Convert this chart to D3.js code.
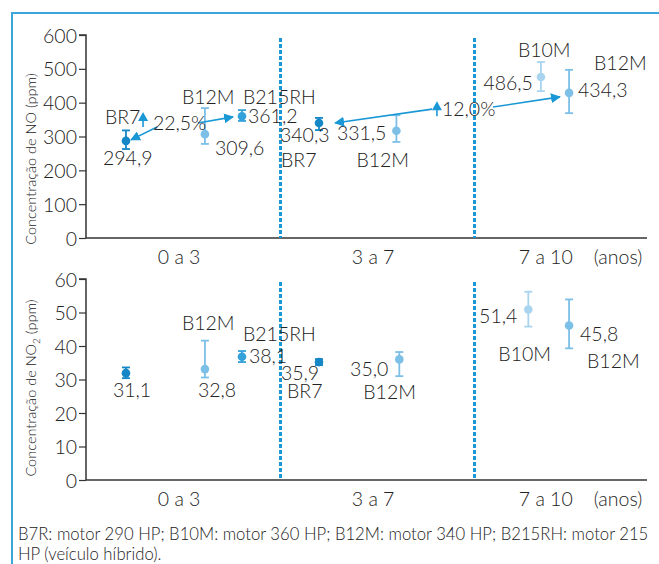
<!DOCTYPE html>
<html>
<head>
<meta charset="utf-8">
<script src="https://cdnjs.cloudflare.com/ajax/libs/d3/7.8.5/d3.min.js"></script>
<style>
 body { margin: 0; background: #fff; }
 svg text { font-family: Lato, "Open Sans", sans-serif; font-weight: 300; fill: #222; }
</style>
</head>
<body>
<div id="chart"></div>
<script>
// dados
var groups = ["0 a 3", "3 a 7", "7 a 10"];
var models = ["BR7", "B12M", "B215RH", "BR7", "B12M", "B10M", "B12M"];
var noValue  = [287, 307, 360, 340, 317, 476, 429];
var noLow    = [263, 278, 346, 319, 284, 434, 369];
var noHigh   = [318, 384, 378, 355, 363, 520, 497];
var noLabels = ["294,9", "309,6", "361,2", "340,3", "331,5", "486,5", "434,3"];
var no2Value  = [31.9, 33.1, 36.8, 35.2, 36.0, 50.9, 46.1];
var no2Low    = [30.4, 30.6, 35.2, 34.3, 31.0, 45.8, 39.3];
var no2High   = [33.6, 41.6, 38.5, 36.1, 38.2, 56.2, 53.9];
var no2Labels = ["31,1", "32,8", "38,1", "35,9", "35,0", "51,4", "45,8"];
var noTicks  = [0, 100, 200, 300, 400, 500, 600];
var no2Ticks = [0, 10, 20, 30, 40, 50, 60];
var pctLabels = ["22,5%", "12,0%"];
var footnote = ["B7R: motor 290 HP; B10M: motor 360 HP; B12M: motor 340 HP; B215RH: motor 215",
                "HP (veículo híbrido)."];

// cores por modelo
var colors = { "BR7": "#1586c6", "B215RH": "#34a2da", "B12M": "#7cbfe7", "B10M": "#a9d4ef" };
var blue = "#1a98d5";

var width = 659, height = 564;
var svg = d3.select("#chart").append("svg").attr("width", width).attr("height", height);

// moldura
svg.append("path").attr("d", "M12,564 V13 H659").attr("fill", "none")
   .attr("stroke", "#3aa6dc").attr("stroke-width", 2);

var x = d3.scaleLinear().domain([0, 3]).range([86, 668]);

// posição de cada ponto dentro do grupo (layout)
var noPos  = [0.206, 0.613, 0.804, 1.201, 1.600, 2.345, 2.490];
var no2Pos = [0.206, 0.613, 0.804, 1.201, 1.615, 2.280, 2.490];
// rótulos: [âncora, dx, dy] para valor e modelo
var noValLay = [["start",-23,24],["start",10,21],["start",6,7],["start",-39,19],["end",-10,9],["end",-8,13],["start",9,4]];
var noModLay = [["start",-21,-17],["start",-23,-30],["start",1,-12],["start",-38,44],["start",-40,36],["start",-23,-20],["start",25,-23]];
var no2ValLay = [["start",-13,24],["start",-7,28],["start",7,6],["start",-38,18],["end",-11,17],["end",-11,14],["start",11,15]];
var no2ModLay = [null,["start",-23,-39],["start",1,-16],["start",-32,36],["start",-36,40],["start",-30,52],["start",18,42]];

var fs = "19.5px";

var defs = svg.append("defs");
defs.append("marker").attr("id", "head").attr("viewBox", "0 0 10 10")
    .attr("refX", 9).attr("refY", 5).attr("markerWidth", 10).attr("markerHeight", 10)
    .attr("markerUnits", "userSpaceOnUse").attr("orient", "auto")
  .append("path").attr("d", "M0,0 L10,5 L0,10 Z").attr("fill", blue);

function panel(cfg) {
  var y = d3.scaleLinear().domain([0, cfg.max]).range([cfg.bottom, cfg.top]);
  var g = svg.append("g");

  var yAxis = d3.axisLeft(y).tickValues(cfg.ticks).tickSize(7).tickPadding(2);
  var ga = g.append("g").attr("transform", "translate(86,0)").call(yAxis);
  ga.select(".domain").attr("stroke", "#333").attr("stroke-width", 1.5).attr("d", "M-7," + y(cfg.max) + "H0V" + cfg.bottom);
  ga.selectAll(".tick line").attr("stroke", "#333").attr("stroke-width", 1.2);
  ga.selectAll(".tick text").style("font-size", fs).attr("fill", "#222").attr("dy", "0.36em");

  // eixo x
  g.append("line").attr("x1", 86).attr("x2", 647).attr("y1", cfg.bottom).attr("y2", cfg.bottom)
   .attr("stroke", "#333").attr("stroke-width", 1.5);
  var catX = [0.48, 1.48, 2.37];
  g.selectAll(".cat").data(groups).enter().append("text")
   .attr("x", function(d, i) { return x(catX[i]); })
   .attr("y", cfg.bottom + 26).attr("text-anchor", "middle")
   .style("font-size", fs).text(function(d) { return d; });
  g.append("text").attr("x", 618).attr("y", cfg.bottom + 26).attr("text-anchor", "middle")
   .style("font-size", fs).text("(anos)");

  // título do eixo y
  var t = g.append("text").attr("transform", "translate(36," + cfg.titleY + ") rotate(-90)")
   .attr("text-anchor", "middle").style("font-size", "14.5px").attr("fill", "#444");
  t.append("tspan").text("Concentração de NO");
  if (cfg.sub) t.append("tspan").attr("dy", 4).style("font-size", "10px").text("2");
  t.append("tspan").attr("dy", cfg.sub ? -4 : 0).text(" (ppm)");

  // divisórias
  [1, 2].forEach(function(v) {
    g.append("line").attr("x1", x(v) + 0.5).attr("x2", x(v) + 0.5)
     .attr("y1", cfg.top + 3).attr("y2", cfg.bottom)
     .attr("stroke", blue).attr("stroke-width", 3).attr("stroke-dasharray", "4,2");
  });

  var pts = models.map(function(m, i) {
    return { m: m, x: x(cfg.pos[i]), v: cfg.val[i], lo: cfg.lo[i], hi: cfg.hi[i], lab: cfg.lab[i], i: i };
  });

  var pg = g.selectAll(".pt").data(pts).enter().append("g");
  pg.append("line").attr("x1", function(d) { return d.x; }).attr("x2", function(d) { return d.x; })
    .attr("y1", function(d) { return y(d.lo); }).attr("y2", function(d) { return y(d.hi); })
    .attr("stroke", function(d) { return colors[d.m]; }).attr("stroke-width", 1.8);
  ["lo", "hi"].forEach(function(k) {
    pg.append("line").attr("x1", function(d) { return d.x - 4; }).attr("x2", function(d) { return d.x + 4; })
      .attr("y1", function(d) { return y(d[k]); }).attr("y2", function(d) { return y(d[k]); })
      .attr("stroke", function(d) { return colors[d.m]; }).attr("stroke-width", 1.8);
  });
  pg.append("circle").attr("cx", function(d) { return d.x; }).attr("cy", function(d) { return y(d.v); })
    .attr("r", 4.3).attr("fill", function(d) { return colors[d.m]; });

  pts.forEach(function(d) {
    var a = cfg.valLay[d.i];
    g.append("text").attr("x", d.x + a[1]).attr("y", y(d.v) + a[2]).attr("text-anchor", a[0])
     .style("font-size", fs).text(d.lab);
    var b = cfg.modLay[d.i];
    if (b) g.append("text").attr("x", d.x + b[1]).attr("y", y(d.v) + b[2]).attr("text-anchor", b[0])
     .style("font-size", fs).text(d.m);
  });

  return { g: g, y: y };
}

var top1 = panel({ max: 600, top: 35, bottom: 238, ticks: noTicks, titleY: 159, sub: false,
  pos: noPos, val: noValue, lo: noLow, hi: noHigh, lab: noLabels, valLay: noValLay, modLay: noModLay });
var bot = panel({ max: 60, top: 279, bottom: 480, ticks: no2Ticks, titleY: 388, sub: true,
  pos: no2Pos, val: no2Value, lo: no2Low, hi: no2High, lab: no2Labels, valLay: no2ValLay, modLay: no2ModLay });

// setas de variação (painel NO), em unidades de dados
var arrows = [[0.366, 328, 0.232, 290], [0.577, 340, 0.758, 358], [1.784, 381, 1.284, 340], [2.098, 387, 2.443, 417]];
var ups = [[0.294, 328], [1.809, 360]];
var pctPos = [[0.345, 319], [1.835, 360]];
var yN = top1.y;
arrows.forEach(function(a) {
  top1.g.append("line").attr("x1", x(a[0])).attr("y1", yN(a[1])).attr("x2", x(a[2])).attr("y2", yN(a[3]))
    .attr("stroke", blue).attr("stroke-width", 1.6).attr("marker-end", "url(#head)");
});
ups.forEach(function(u) {
  var cx = x(u[0]), by = yN(u[1]);
  top1.g.append("line").attr("x1", cx).attr("x2", cx).attr("y1", by).attr("y2", by - 8)
    .attr("stroke", blue).attr("stroke-width", 1.6);
  top1.g.append("path").attr("d", "M" + (cx - 5) + "," + (by - 6) + " L" + cx + "," + (by - 15) + " L" + (cx + 5) + "," + (by - 6) + " Z")
    .attr("fill", blue);
});
pctLabels.forEach(function(p, i) {
  top1.g.append("text").attr("x", x(pctPos[i][0])).attr("y", yN(pctPos[i][1]))
    .style("font-size", fs).text(p);
});

// nota
svg.selectAll(".foot").data(footnote).enter().append("text")
   .attr("x", 18).attr("y", function(d, i) { return 540 + i * 20; })
   .style("font-size", "16.7px").attr("fill", "#333").text(function(d) { return d; });
</script>
</body>
</html>
